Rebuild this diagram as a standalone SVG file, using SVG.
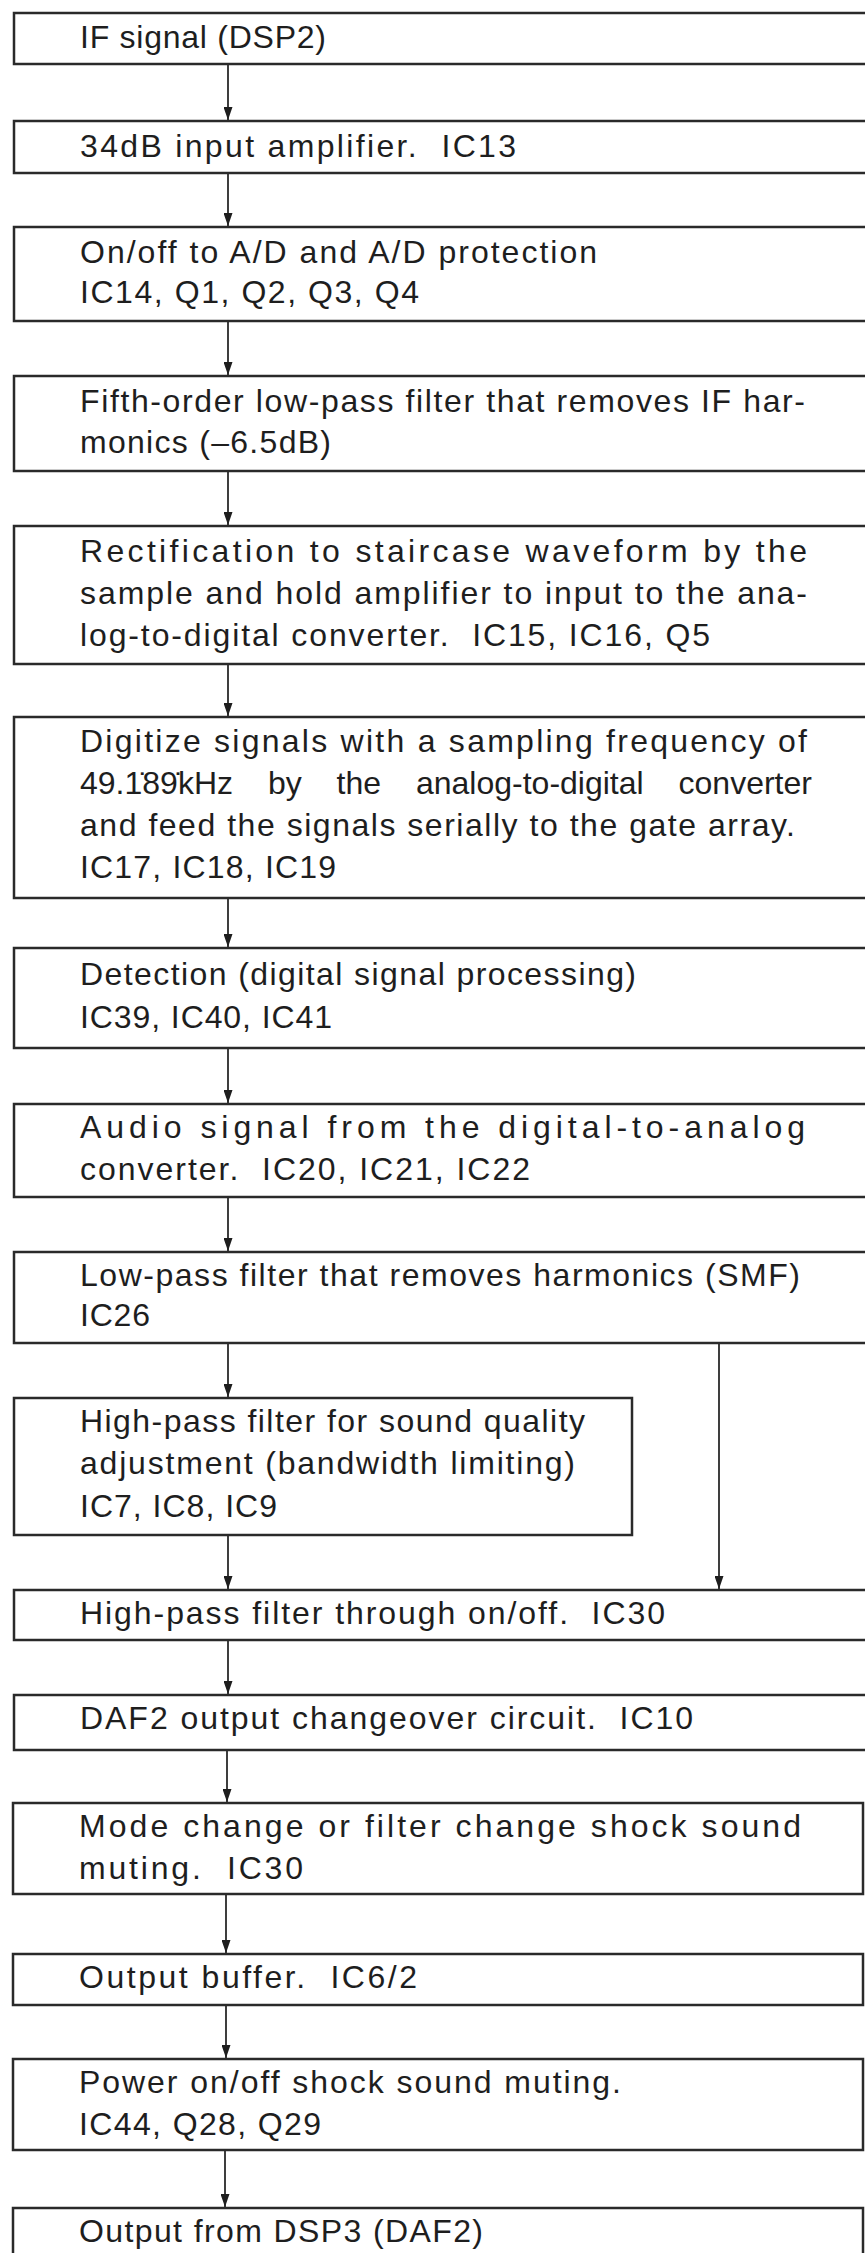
<svg xmlns="http://www.w3.org/2000/svg" width="865" height="2253" viewBox="0 0 865 2253">
<style>
  .box { fill: #ffffff; stroke: #2a2a2a; stroke-width: 2.5; }
  .t { font-family: "Liberation Sans", Arial, sans-serif; font-size: 32px; fill: #1e1e1e; white-space: pre; }
  .c { fill: none; stroke: #2a2a2a; stroke-width: 1.8; }
</style>
<defs>
  <marker id="ah" markerUnits="userSpaceOnUse" markerWidth="13" markerHeight="9" refX="13" refY="4.5" orient="auto" viewBox="0 0 13 9">
    <path d="M0,0 L13,4.5 L0,9 Z" fill="#1e1e1e"/>
  </marker>
</defs>
<rect width="865" height="2253" fill="#ffffff"/>

<g id="connectors">
  <line class="c" x1="228" y1="64" x2="228" y2="120" marker-end="url(#ah)"/>
  <line class="c" x1="228" y1="173" x2="228" y2="226" marker-end="url(#ah)"/>
  <line class="c" x1="228" y1="321" x2="228" y2="375" marker-end="url(#ah)"/>
  <line class="c" x1="228" y1="471" x2="228" y2="525" marker-end="url(#ah)"/>
  <line class="c" x1="228" y1="664" x2="228" y2="716" marker-end="url(#ah)"/>
  <line class="c" x1="228" y1="898" x2="228" y2="947" marker-end="url(#ah)"/>
  <line class="c" x1="228" y1="1048" x2="228" y2="1103" marker-end="url(#ah)"/>
  <line class="c" x1="228" y1="1197" x2="228" y2="1251" marker-end="url(#ah)"/>
  <line class="c" x1="228" y1="1343" x2="228" y2="1397" marker-end="url(#ah)"/>
  <line class="c" x1="719" y1="1343" x2="719" y2="1589" marker-end="url(#ah)"/>
  <line class="c" x1="228" y1="1535" x2="228" y2="1589" marker-end="url(#ah)"/>
  <line class="c" x1="228" y1="1640" x2="228" y2="1694" marker-end="url(#ah)"/>
  <line class="c" x1="227" y1="1750" x2="227" y2="1802" marker-end="url(#ah)"/>
  <line class="c" x1="226" y1="1894" x2="226" y2="1953" marker-end="url(#ah)"/>
  <line class="c" x1="226" y1="2005" x2="226" y2="2058" marker-end="url(#ah)"/>
  <line class="c" x1="225" y1="2150" x2="225" y2="2207" marker-end="url(#ah)"/>
</g>

<g id="n1">
  <rect class="box" x="14" y="13" width="856" height="51"/>
  <text class="t" x="80" y="48" textLength="246" lengthAdjust="spacing">IF signal (DSP2)</text>
</g>
<g id="n2">
  <rect class="box" x="14" y="121" width="856" height="52"/>
  <text class="t" x="80" y="157" textLength="436" lengthAdjust="spacing">34dB input amplifier.  IC13</text>
</g>
<g id="n3">
  <rect class="box" x="14" y="227" width="856" height="94"/>
  <text class="t" x="80" y="263" textLength="517" lengthAdjust="spacing">On/off to A/D and A/D protection</text>
  <text class="t" x="80" y="303" textLength="339" lengthAdjust="spacing">IC14, Q1, Q2, Q3, Q4</text>
</g>
<g id="n4">
  <rect class="box" x="14" y="376" width="856" height="95"/>
  <text class="t" x="80" y="412" textLength="725" lengthAdjust="spacing">Fifth-order low-pass filter that removes IF har-</text>
  <text class="t" x="80" y="453" textLength="251" lengthAdjust="spacing">monics (–6.5dB)</text>
</g>
<g id="n5">
  <rect class="box" x="14" y="526" width="856" height="138"/>
  <text class="t" x="80" y="562" textLength="727" lengthAdjust="spacing">Rectification to staircase waveform by the</text>
  <text class="t" x="80" y="604" textLength="727" lengthAdjust="spacing">sample and hold amplifier to input to the ana-</text>
  <text class="t" x="80" y="646" textLength="630" lengthAdjust="spacing">log-to-digital converter.  IC15, IC16, Q5</text>
</g>
<g id="n6">
  <rect class="box" x="14" y="717" width="856" height="181"/>
  <text class="t" x="80" y="752" textLength="727" lengthAdjust="spacing">Digitize signals with a sampling frequency of</text>
  <text class="t" x="80" y="794" style="word-spacing:26px">49.1̇89̇kHz by the analog-to-digital converter</text>
  <text class="t" x="80" y="836" textLength="715" lengthAdjust="spacing">and feed the signals serially to the gate array.</text>
  <text class="t" x="80" y="878" textLength="256" lengthAdjust="spacing">IC17, IC18, IC19</text>
</g>
<g id="n7">
  <rect class="box" x="14" y="948" width="856" height="100"/>
  <text class="t" x="80" y="985" textLength="556" lengthAdjust="spacing">Detection (digital signal processing)</text>
  <text class="t" x="80" y="1028" textLength="252" lengthAdjust="spacing">IC39, IC40, IC41</text>
</g>
<g id="n8">
  <rect class="box" x="14" y="1104" width="856" height="93"/>
  <text class="t" x="80" y="1138" textLength="725" lengthAdjust="spacing">Audio signal from the digital-to-analog</text>
  <text class="t" x="80" y="1180" textLength="450" lengthAdjust="spacing">converter.  IC20, IC21, IC22</text>
</g>
<g id="n9">
  <rect class="box" x="14" y="1252" width="856" height="91"/>
  <text class="t" x="80" y="1286" textLength="720" lengthAdjust="spacing">Low-pass filter that removes harmonics (SMF)</text>
  <text class="t" x="80" y="1326" textLength="70" lengthAdjust="spacing">IC26</text>
</g>
<g id="n10">
  <rect class="box" x="14" y="1398" width="618" height="137"/>
  <text class="t" x="80" y="1432" textLength="505" lengthAdjust="spacing">High-pass filter for sound quality</text>
  <text class="t" x="80" y="1474" textLength="495" lengthAdjust="spacing">adjustment (bandwidth limiting)</text>
  <text class="t" x="80" y="1517" textLength="197" lengthAdjust="spacing">IC7, IC8, IC9</text>
</g>
<g id="n11">
  <rect class="box" x="14" y="1590" width="856" height="50"/>
  <text class="t" x="80" y="1624" textLength="585" lengthAdjust="spacing">High-pass filter through on/off.  IC30</text>
</g>
<g id="n12">
  <rect class="box" x="14" y="1695" width="856" height="55"/>
  <text class="t" x="80" y="1729" textLength="613" lengthAdjust="spacing">DAF2 output changeover circuit.  IC10</text>
</g>
<g id="n13">
  <rect class="box" x="13" y="1803" width="850" height="91"/>
  <text class="t" x="79" y="1837" textLength="722" lengthAdjust="spacing">Mode change or filter change shock sound</text>
  <text class="t" x="79" y="1879" textLength="224" lengthAdjust="spacing">muting.  IC30</text>
</g>
<g id="n14">
  <rect class="box" x="13" y="1954" width="850" height="51"/>
  <text class="t" x="79" y="1988" textLength="338" lengthAdjust="spacing">Output buffer.  IC6/2</text>
</g>
<g id="n15">
  <rect class="box" x="13" y="2059" width="850" height="91"/>
  <text class="t" x="79" y="2093" textLength="542" lengthAdjust="spacing">Power on/off shock sound muting.</text>
  <text class="t" x="79" y="2135" textLength="242" lengthAdjust="spacing">IC44, Q28, Q29</text>
</g>
<g id="n16">
  <rect class="box" x="13" y="2208" width="850" height="60"/>
  <text class="t" x="79" y="2242" textLength="404" lengthAdjust="spacing">Output from DSP3 (DAF2)</text>
</g>
</svg>
